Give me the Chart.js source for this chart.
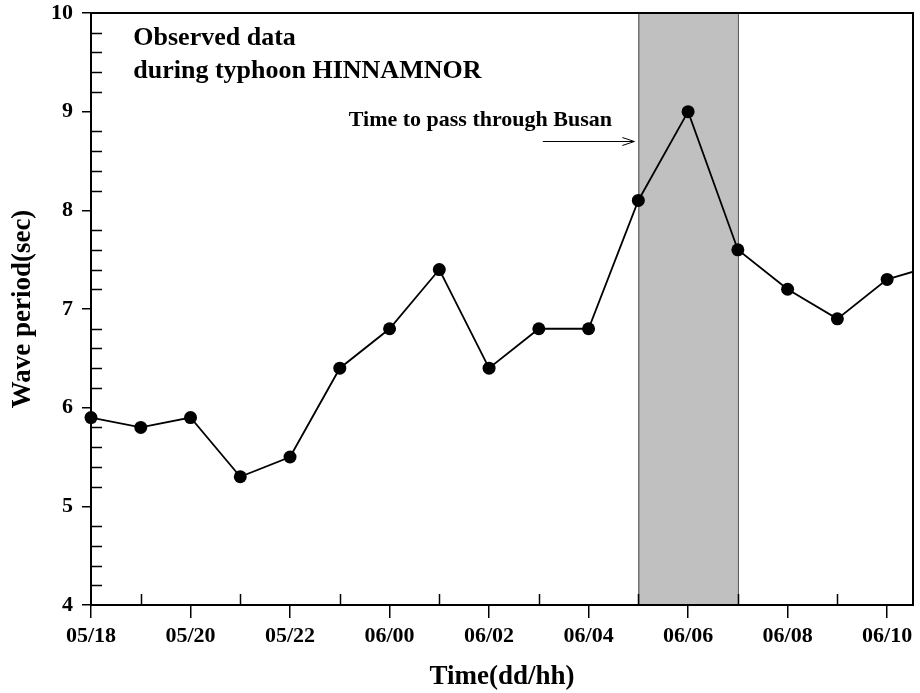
<!DOCTYPE html>
<html>
<head>
<meta charset="utf-8">
<script src="https://cdn.jsdelivr.net/npm/chart.js@4.4.1/dist/chart.umd.min.js"></script>
<style>
  html, body { margin: 0; padding: 0; background: #fff; }
</style>
</head>
<body>
<canvas id="chart" width="920" height="693"></canvas>
<script>
// hours counted from 05/18 (dd/hh)
const hours = [0, 1, 2, 3, 4, 5, 6, 7, 8, 9, 10, 11, 12, 13, 14, 15, 16, 17];
const wavePeriod = [5.9, 5.8, 5.9, 5.3, 5.5, 6.4, 6.8, 7.4, 6.4, 6.8, 6.8, 8.1, 9.0, 7.6, 7.2, 6.9, 7.3, 7.45];

const tickHours = [0, 2, 4, 6, 8, 10, 12, 14, 16];
const tickLabels = ['05/18', '05/20', '05/22', '06/00', '06/02', '06/04', '06/06', '06/08', '06/10'];
const minorHours = [1, 3, 5, 7, 9, 11, 13, 15];
const yMinorTicks = [4.2, 4.4, 4.6, 4.8, 5.2, 5.4, 5.6, 5.8, 6.2, 6.4, 6.6, 6.8,
                     7.2, 7.4, 7.6, 7.8, 8.2, 8.4, 8.6, 8.8, 9.2, 9.4, 9.6, 9.8];

// typhoon passing window
const passStart = 11;
const passEnd = 13;

const serif = '"Liberation Serif", "Times New Roman", serif';

const framePlugin = {
  id: 'frame',
  beforeDatasetsDraw(chart) {
    const {ctx, chartArea: a, scales: {x, y}} = chart;
    const x0 = x.getPixelForValue(passStart);
    const x1 = x.getPixelForValue(passEnd);
    ctx.save();
    ctx.fillStyle = '#c0c0c0';
    ctx.fillRect(x0, a.top, x1 - x0, a.bottom - a.top);
    ctx.strokeStyle = '#444';
    ctx.lineWidth = 1;
    ctx.strokeRect(x0 + 0.5, a.top, x1 - x0, a.bottom - a.top);
    ctx.restore();
  },
  afterDatasetsDraw(chart) {
    const {ctx, chartArea: a, scales: {x, y}} = chart;
    ctx.save();
    ctx.strokeStyle = '#000';
    ctx.lineWidth = 2;
    ctx.strokeRect(a.left, a.top, a.right - a.left, a.bottom - a.top);

    // inward minor ticks
    ctx.lineWidth = 1.5;
    ctx.beginPath();
    yMinorTicks.forEach(v => {
      const py = Math.round(y.getPixelForValue(v)) + 0.5;
      ctx.moveTo(a.left, py);
      ctx.lineTo(a.left + 11, py);
    });
    minorHours.forEach(h => {
      const px = Math.round(x.getPixelForValue(h)) + 0.5;
      ctx.moveTo(px, a.bottom);
      ctx.lineTo(px, a.bottom - 11);
    });
    ctx.stroke();

    // notes
    ctx.fillStyle = '#000';
    ctx.textBaseline = 'alphabetic';
    ctx.textAlign = 'left';
    ctx.font = 'bold 26px ' + serif;
    const tx = x.getPixelForValue(0.85);
    ctx.fillText('Observed data', tx, y.getPixelForValue(9.68));
    ctx.fillText('during typhoon HINNAMNOR', tx, y.getPixelForValue(9.34));

    ctx.font = 'bold 22px ' + serif;
    ctx.fillText('Time to pass through Busan', x.getPixelForValue(5.18), y.getPixelForValue(8.85));

    // arrow to the shaded window
    const ay = Math.round(y.getPixelForValue(8.7)) + 0.5;
    const ax0 = x.getPixelForValue(9.08);
    const ax1 = x.getPixelForValue(passStart) - 4;
    ctx.lineWidth = 1;
    ctx.beginPath();
    ctx.moveTo(ax0, ay);
    ctx.lineTo(ax1, ay);
    ctx.moveTo(ax1 - 12, ay - 4);
    ctx.lineTo(ax1, ay);
    ctx.lineTo(ax1 - 12, ay + 4);
    ctx.stroke();
    ctx.restore();
  }
};

new Chart(document.getElementById('chart'), {
  type: 'line',
  data: {
    datasets: [{
      data: hours.map((h, i) => ({x: h, y: wavePeriod[i]})),
      borderColor: '#000',
      borderWidth: 1.8,
      backgroundColor: '#000',
      pointRadius: 6.5,
      pointBorderWidth: 0,
      pointBackgroundColor: '#000',
      tension: 0,
      clip: {left: 10, top: 10, right: 0, bottom: 10}
    }]
  },
  options: {
    responsive: false,
    animation: false,
    devicePixelRatio: 1,
    layout: {padding: {top: 13, right: 7, left: 0, bottom: 0}},
    plugins: {legend: {display: false}, tooltip: {enabled: false}},
    scales: {
      x: {
        type: 'linear',
        min: 0,
        max: 16.52,
        afterBuildTicks: s => { s.ticks = tickHours.map(v => ({value: v})); },
        afterFit: s => { s.height = 88; s.paddingLeft = 0; s.paddingRight = 0; },
        ticks: {
          autoSkip: false,
          maxRotation: 0,
          padding: 5,
          color: '#000',
          font: {family: serif, size: 22, weight: 'bold'},
          callback: v => tickLabels[tickHours.indexOf(v)]
        },
        grid: {drawOnChartArea: false, tickLength: 13, color: '#000', lineWidth: 1.5},
        border: {display: true, color: '#000', width: 2},
        title: {
          display: true,
          text: 'Time(dd/hh)',
          color: '#000',
          font: {family: serif, size: 27, weight: 'bold'},
          padding: {top: 0, bottom: 0}
        }
      },
      y: {
        min: 4,
        max: 10,
        afterFit: s => { s.width = 91; s.paddingTop = 0; s.paddingBottom = 0; },
        ticks: {
          stepSize: 1,
          padding: 9,
          color: '#000',
          font: {family: serif, size: 22, weight: 'bold'}
        },
        grid: {drawOnChartArea: false, tickLength: 9, color: '#000', lineWidth: 1.5},
        border: {display: true, color: '#000', width: 2},
        title: {
          display: true,
          text: 'Wave period(sec)',
          color: '#000',
          font: {family: serif, size: 27, weight: 'bold'},
          padding: {top: 7, bottom: 0}
        }
      }
    }
  },
  plugins: [framePlugin]
});
</script>
</body>
</html>
